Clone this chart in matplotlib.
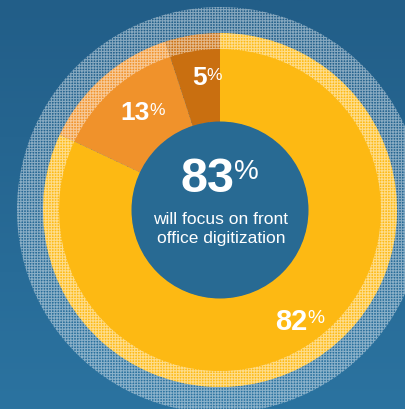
import numpy as np
import matplotlib
matplotlib.use("Agg")
import matplotlib.pyplot as plt
from matplotlib.patches import Circle
from matplotlib.colors import LinearSegmentedColormap

plt.rcParams["font.family"] = ["Liberation Sans", "DejaVu Sans"]
plt.rcParams["hatch.linewidth"] = 0.8

segments = ["Front office", "Other", "Unsure"]
shares = [82, 13, 5]
share_labels = ["82", "13", "5"]
headline = "83"
headline_text = "will focus on front\noffice digitization"

colors = ["#fdb913", "#f0922b", "#c96f10"]
W, H = 405, 409
cx, cy = 220, H - 210


def main() -> None:
    fig = plt.figure(figsize=(W / 100, H / 100), dpi=100)
    ax = fig.add_axes([0, 0, 1, 1])

    # background gradient
    grad = np.linspace(0, 1, 256)[:, None]
    cmap = LinearSegmentedColormap.from_list("bg", ["#225e88", "#2b73a0"])
    ax.imshow(grad, cmap=cmap, extent=(0, W, 0, H), aspect="auto", origin="upper", zorder=0)

    # outer hatched halo
    halo = Circle((cx, cy), 203, facecolor="none", edgecolor=(1, 1, 1, 0.45),
                  hatch="++++++", linewidth=0, zorder=1)
    ax.add_patch(halo)

    # light outer ring
    wedges, _ = ax.pie(shares, colors=colors, startangle=90, counterclock=False,
                       radius=177, center=(cx, cy), frame=True,
                       wedgeprops=dict(width=17, linewidth=0))
    for w in wedges:
        w.set_hatch("++++++")
        w.set_edgecolor((1, 1, 1, 0.5))
        w.set_zorder(2)

    # main donut
    wedges2, _ = ax.pie(shares, colors=colors, startangle=90, counterclock=False,
                        radius=161, center=(cx, cy), frame=True,
                        wedgeprops=dict(width=73, linewidth=0))
    for w in wedges2:
        w.set_zorder(3)
    ax.set_xlim(0, W)
    ax.set_ylim(0, H)
    ax.axis("off")

    ax.add_patch(Circle((cx, cy), 88.5, facecolor="#286a93", linewidth=0, zorder=4))

    # segment labels
    total = sum(shares)
    start = 90.0
    label_r = [133, 129, 134]
    sizes = [21, 19, 19]
    for val, lab, r, fs in zip(shares, share_labels, label_r, sizes):
        span = 360.0 * val / total
        mid = np.deg2rad(start - span / 2)
        start -= span
        x = cx + r * np.cos(mid)
        y = cy + r * np.sin(mid)
        t = ax.text(x, y, lab, color="white", fontsize=fs, fontweight="bold",
                    ha="center", va="center", zorder=6)
        ax.annotate("%", xy=(1, 1), xycoords=t, xytext=(0, -1.5), textcoords="offset points",
                    color="white", fontsize=fs * 0.66, ha="left", va="top", zorder=6)

    t = ax.text(cx - 13, H - 179, headline, color="white", fontsize=35, fontweight="bold",
                ha="center", va="center", zorder=6)
    ax.annotate("%", xy=(1, 1), xycoords=t, xytext=(0, -2), textcoords="offset points",
                color="white", fontsize=20, ha="left", va="top", zorder=6)
    ax.text(cx + 1, H - 229, headline_text, color="white", fontsize=12.5, ha="center",
            va="center", linespacing=1.3, zorder=6)

    fig.savefig("out.png", dpi=100)
    plt.close(fig)


if __name__ == "__main__":
    main()
